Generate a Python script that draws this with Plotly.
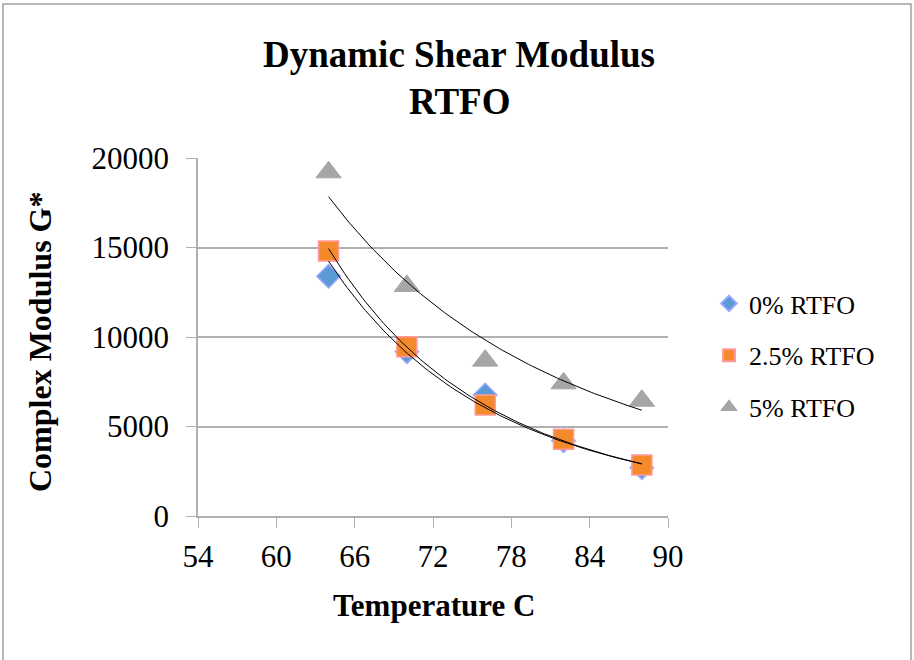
import numpy as np
import plotly.graph_objects as go

temps = [64, 70, 76, 82, 88]
g_0 = [13400, 9180, 6760, 4200, 2700]
g_25 = [14800, 9460, 6200, 4290, 2850]
g_5 = [19200, 12850, 8680, 7410, 6440]

series_names = ["0% RTFO", "2.5% RTFO", "5% RTFO"]
x_ticks = [54, 60, 66, 72, 78, 84, 90]
y_ticks = [0, 5000, 10000, 15000, 20000]

W, H = 914, 660
L, R, T, B = 198, 668, 158, 516

font = "Liberation Serif, Times New Roman, serif"
fig = go.Figure()

styles = [
    dict(symbol="diamond", size=18, color="#5b9bd5", line=dict(color="#9aa6ff", width=1.5)),
    dict(symbol="square", size=20, color="#f58a2c", line=dict(color="#ff9a9a", width=1.5)),
    dict(symbol="triangle-up", size=22, color="#a6a6a6", line=dict(color="#a6a6a6", width=1)),
]

xs = np.array(temps, dtype=float)
xfit = np.linspace(64, 88, 120)
for i, (name, ys, st) in enumerate(zip(series_names, [g_0, g_25, g_5], styles)):
    fig.add_trace(go.Scatter(x=temps, y=ys, mode="markers", name=name, marker=st,
                             legendgroup=f"g{i}"))
for ys in [g_0, g_25, g_5]:
    # power trendline (as in the spreadsheet chart)
    b, a = np.polyfit(np.log(xs), np.log(np.array(ys, dtype=float)), 1)
    fig.add_trace(go.Scatter(x=xfit, y=np.exp(a) * xfit ** b, mode="lines",
                             line=dict(color="black", width=1), showlegend=False, hoverinfo="skip"))

def px_x(p):
    return (p - L) / (R - L)

def px_y(p):
    return (B - p) / (B - T)

fig.add_shape(type="rect", xref="paper", yref="paper",
              x0=px_x(3), x1=px_x(911), y0=px_y(4), y1=px_y(664),
              line=dict(color="#a0a0a0", width=1.5), fillcolor="rgba(0,0,0,0)", layer="below")

ann = [
    dict(text="<b>Dynamic Shear Modulus</b>", x=px_x(459), y=px_y(54), size=37),
    dict(text="<b>RTFO</b>", x=px_x(459), y=px_y(102), size=37),
    dict(text="<b>Temperature C</b>", x=px_x(434), y=px_y(605), size=31),
]
for a in ann:
    fig.add_annotation(text=a["text"], x=a["x"], y=a["y"], xref="paper", yref="paper",
                       xanchor="center", yanchor="middle", showarrow=False,
                       font=dict(size=a["size"], family=font, color="black"))
fig.add_annotation(text="<b>Complex Modulus G*</b>", x=px_x(40), y=px_y(342), xref="paper", yref="paper",
                   xanchor="center", yanchor="middle", showarrow=False, textangle=-90,
                   font=dict(size=32, family=font, color="black"))

fig.update_layout(
    width=W, height=H,
    margin=dict(l=L, r=W - R, t=T, b=H - B),
    paper_bgcolor="white", plot_bgcolor="white",
    font=dict(family=font, color="black"),
    xaxis=dict(range=[54, 90], tickvals=x_ticks, ticktext=[str(v) for v in x_ticks],
               ticks="outside", ticklen=10, tickcolor="#b0b0b0",
               showgrid=False, showline=True, linecolor="#b0b0b0", linewidth=1.5, zeroline=False,
               tickfont=dict(size=31, family=font), ticklabelstandoff=2),
    yaxis=dict(range=[0, 20000], tickvals=y_ticks, ticktext=[str(v) for v in y_ticks],
               ticks="outside", ticklen=10, tickcolor="#b0b0b0",
               showgrid=True, gridcolor="#b0b0b0", gridwidth=1.5,
               showline=True, linecolor="#b0b0b0", linewidth=1.5, zeroline=False,
               tickfont=dict(size=31, family=font), ticklabelstandoff=11),
    legend=dict(x=px_x(709), y=px_y(280), xanchor="left", yanchor="top",
                font=dict(size=26, family=font), itemsizing="constant",
                tracegroupgap=15, itemwidth=30, bgcolor="rgba(0,0,0,0)"),
    showlegend=True,
)

fig.write_html("out.html")
